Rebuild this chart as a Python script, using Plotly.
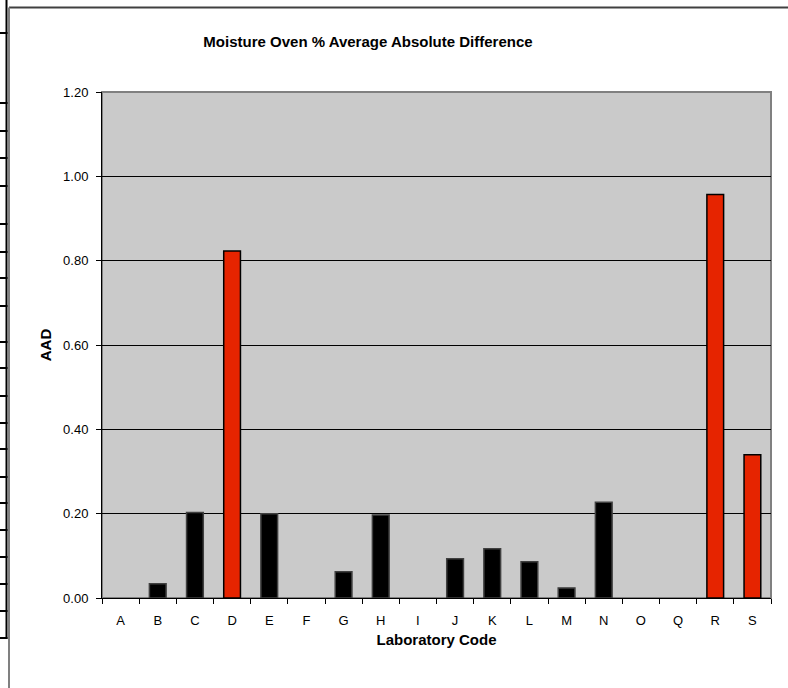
import plotly.graph_objects as go

# ---- data ----
labs = ["A", "B", "C", "D", "E", "F", "G", "H", "I", "J", "K", "L", "M", "N", "O", "Q", "R", "S"]
aad = [0.0, 0.034, 0.203, 0.823, 0.200, 0.0, 0.062, 0.197, 0.0, 0.093, 0.117, 0.086, 0.024, 0.227, 0.0, 0.0, 0.957, 0.340]
flagged = ["D", "R", "S"]
y_ticks = [0.0, 0.2, 0.4, 0.6, 0.8, 1.0, 1.2]

# decoration (left table fragment) row lines, page pixel y
table_rows = [33, 103, 131, 158, 186, 224, 252, 278, 306, 342, 368, 396, 423, 449, 477, 503, 530, 557, 584, 611, 638]

W, H = 788, 688
L, R, T, B = 102, 17, 92, 90
pw, ph = W - L - R, H - T - B


def px(x):
    return (x - L) / pw


def py(y):
    return (H - B - y) / ph


fills = ["#E62400" if c in flagged else "#000000" for c in labs]
lines = ["#000000" if c in flagged else "#404040" for c in labs]
lwidths = [1.5 if v > 0 else 0 for v in aad]

fig = go.Figure(go.Bar(
    x=labs, y=aad, width=0.45,
    marker=dict(color=fills, line=dict(color=lines, width=lwidths)),
    hoverinfo="x+y",
))

shapes = []
# plot border (top/right gray)
shapes.append(dict(type="rect", xref="paper", yref="paper", x0=0, x1=1, y0=0, y1=1,
                   line=dict(color="#808080", width=2), layer="below"))
# chart outer border
shapes.append(dict(type="line", xref="paper", yref="paper", x0=px(9), x1=px(790), y0=py(7.5), y1=py(7.5),
                   line=dict(color="#404040", width=2)))
shapes.append(dict(type="line", xref="paper", yref="paper", x0=px(9), x1=px(9), y0=py(7.5), y1=py(690),
                   line=dict(color="#808080", width=2)))
# left table fragment
shapes.append(dict(type="line", xref="paper", yref="paper", x0=px(6.5), x1=px(6.5), y0=py(0), y1=py(639),
                   line=dict(color="#000000", width=2)))
for ry in table_rows:
    shapes.append(dict(type="line", xref="paper", yref="paper", x0=px(0), x1=px(7.5), y0=py(ry), y1=py(ry),
                       line=dict(color="#000000", width=2)))

fig.update_layout(
    width=W, height=H,
    margin=dict(l=L, r=R, t=T, b=B),
    paper_bgcolor="white",
    plot_bgcolor="#CACACA",
    font=dict(family="Liberation Sans, Arial, sans-serif", size=13, color="#000000"),
    title=dict(text="<b>Moisture Oven % Average Absolute Difference</b>",
               font=dict(size=15), xref="container", x=368 / W, xanchor="center",
               yref="container", y=1 - 42 / H, yanchor="middle"),
    showlegend=False,
    shapes=shapes,
    xaxis=dict(
        type="category", categoryorder="array", categoryarray=labs,
        showline=True, linecolor="#000000", linewidth=1,
        ticks="outside", ticklen=5, tickcolor="#000000", tickson="boundaries",
        showgrid=False, tickfont=dict(size=13), ticklabelstandoff=10,
        title=dict(text="<b>Laboratory Code</b>", font=dict(size=15), standoff=7),
        range=[-0.5, len(labs) - 0.5],
    ),
    yaxis=dict(
        range=[0, 1.2], tickvals=y_ticks, ticktext=[f"{v:.2f}" for v in y_ticks],
        showline=True, linecolor="#000000", linewidth=1,
        ticks="outside", ticklen=5, tickcolor="#000000",
        showgrid=True, gridcolor="#000000", gridwidth=1,
        zeroline=False, tickfont=dict(size=13), ticklabelstandoff=5,
        title=dict(text="<b>AAD</b>", font=dict(size=15), standoff=7),
    ),
)

fig.write_html(
    "out.html",
    config={"displayModeBar": False},
    post_script="document.body.style.margin='0';document.body.style.overflow='hidden';"
                "document.documentElement.style.overflow='hidden';",
)
